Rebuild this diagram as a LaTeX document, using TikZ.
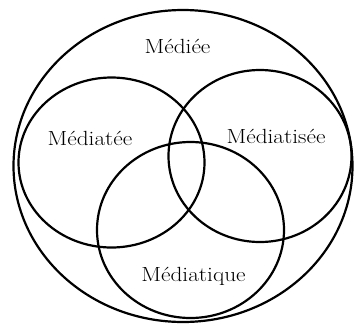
\documentclass[tikz,border=0pt]{standalone}
\usepackage{graphicx}
\begin{document}
\begin{tikzpicture}[x=1pt,y=-1pt,
  ring/.style={line width=2.2pt,draw=black},
  lab/.style={anchor=base,inner sep=0pt}]
\newcommand{\vlab}[1]{\scalebox{1.135}[1]{\fontsize{20.5}{24}\selectfont #1}}
\useasboundingbox (0,0) rectangle (354,325);
\draw[ring] (183,166) ellipse [x radius=169.5, y radius=156];
\draw[ring] (111.5,162.5) ellipse [x radius=93, y radius=85];
\draw[ring] (260,156) ellipse [x radius=91.5, y radius=86];
\draw[ring] (190.5,230) ellipse [x radius=93.5, y radius=88];
\node[lab] (mediee) at (177.5,53.5) {\vlab{Médiée}};
\node[lab] (mediatee) at (90,145) {\vlab{Médiatée}};
\node[lab] (mediatisee) at (276,143) {\vlab{Médiatisée}};
\node[lab] (mediatique) at (193.5,281) {\vlab{Médiatique}};
\end{tikzpicture}
\end{document}
